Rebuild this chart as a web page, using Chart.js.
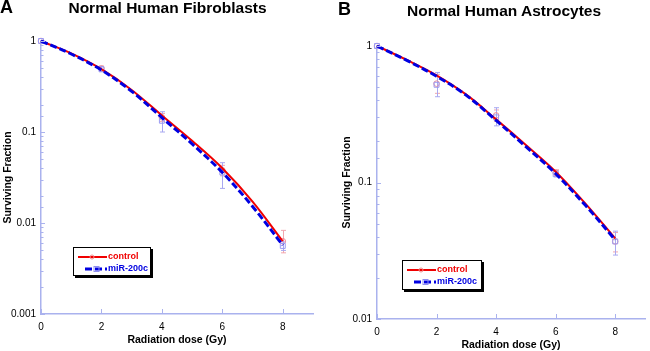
<!DOCTYPE html>
<html>
<head>
<meta charset="utf-8">
<script src="https://cdn.jsdelivr.net/npm/chart.js@4.4.1/dist/chart.umd.min.js"></script>
<style>
  body { margin:0; background:#fff; width:650px; height:351px; overflow:hidden; position:relative; font-family:'Liberation Sans', Arial, sans-serif; }
  .panel { position:absolute; top:0; width:325px; height:351px; }
  .letter { position:absolute; font-weight:bold; font-size:18px; line-height:18px; }
  .title { position:absolute; font-weight:bold; font-size:15.5px; line-height:16px; text-align:center; white-space:nowrap; }
</style>
</head>
<body>
<div class="panel" style="left:0"><canvas id="chartA" width="325" height="351"></canvas></div>
<div class="panel" style="left:325px"><canvas id="chartB" width="325" height="351"></canvas></div>
<div class="letter" style="left:0;top:-2px">A</div>
<div class="title" style="left:0;width:335px;top:-0.5px">Normal Human Fibroblasts</div>
<div class="letter" style="left:338px;top:0">B</div>
<div class="title" style="left:407px;width:194px;top:3px">Normal Human Astrocytes</div>
<script>
// doses for the fitted curves and for the measured points
const doses = [0, 1, 2, 3, 4, 5, 6, 7, 8]
const measuredDoses = [0, 2, 4, 6, 8]

// A - fibroblasts
const controlFitA = [1, 0.73, 0.49, 0.29, 0.152, 0.08, 0.040, 0.0172, 0.0063]
const mirFitA = [1, 0.72, 0.48, 0.28, 0.144, 0.074, 0.036, 0.0152, 0.0057]
const controlPtsA = [1, 0.50, 0.145, 0.038, 0.0063]
const mirPtsA = [1, 0.49, 0.133, 0.036, 0.0056]
const controlLowA = [1, 0.47, 0.13, 0.033, 0.0047]
const controlHighA = [1, 0.53, 0.16, 0.043, 0.0083]
const mirLowA = [1, 0.46, 0.10, 0.024, 0.005]
const mirHighA = [1, 0.52, 0.167, 0.046, 0.0062]

// B - astrocytes
const controlFitB = [1, 0.79, 0.61, 0.44, 0.29, 0.188, 0.12, 0.07, 0.039]
const mirFitB = [1, 0.785, 0.60, 0.435, 0.285, 0.183, 0.116, 0.068, 0.038]
const controlPtsB = [1, 0.53, 0.31, 0.118, 0.037]
const mirPtsB = [1, 0.52, 0.30, 0.115, 0.037]
const controlLowB = [1, 0.45, 0.28, 0.112, 0.031]
const controlHighB = [1, 0.62, 0.34, 0.124, 0.043]
const mirLowB = [1, 0.425, 0.26, 0.11, 0.0294]
const mirHighB = [1, 0.64, 0.353, 0.122, 0.044]

const seriesNames = ['control', 'miR-200c']

const FONT = "'Liberation Sans', Arial, sans-serif"
const AXIS = '#aab2ee'
const RED = 'rgb(240,0,0)'
const BLUE = 'rgb(0,0,225)'

function xy(xs, ys) {
  return ys.map((y, i) => ({ x: xs[i], y: y }))
}

// error bars under the markers
const errorBars = {
  id: 'errorBars',
  beforeDatasetsDraw(chart) {
    const ctx = chart.ctx
    const xs = chart.scales.x
    const ys = chart.scales.y
    ctx.save()
    chart.data.datasets.forEach((ds) => {
      if (!ds.errLow) return
      ctx.strokeStyle = ds.errColor
      ctx.lineWidth = 1
      ds.errLow.forEach((lo, i) => {
        const hi = ds.errHigh[i]
        if (lo === hi) return
        const px = Math.round(xs.getPixelForValue(measuredDoses[i])) + 0.5
        const y1 = ys.getPixelForValue(lo)
        const y2 = ys.getPixelForValue(hi)
        ctx.beginPath()
        ctx.moveTo(px, y1); ctx.lineTo(px, y2)
        ctx.moveTo(px - 2.5, y1); ctx.lineTo(px + 2.5, y1)
        ctx.moveTo(px - 2.5, y2); ctx.lineTo(px + 2.5, y2)
        ctx.stroke()
      })
    })
    ctx.restore()
  }
}

// small ticks pointing into the plot
const inwardTicks = {
  id: 'inwardTicks',
  afterDraw(chart) {
    const ctx = chart.ctx
    const area = chart.chartArea
    ctx.save()
    ctx.strokeStyle = AXIS
    ctx.lineWidth = 1
    chart.scales.y.ticks.forEach((t) => {
      const l = Math.log10(t.value)
      const major = Math.abs(l - Math.round(l)) < 1e-6
      const py = Math.round(chart.scales.y.getPixelForValue(t.value)) + 0.5
      ctx.beginPath()
      ctx.moveTo(area.left, py)
      ctx.lineTo(area.left + (major ? 4 : 2.5), py)
      ctx.stroke()
    })
    chart.scales.x.ticks.forEach((t) => {
      const px = Math.round(chart.scales.x.getPixelForValue(t.value)) + 0.5
      ctx.beginPath()
      ctx.moveTo(px, area.bottom)
      ctx.lineTo(px, area.bottom - 5)
      ctx.stroke()
    })
    ctx.restore()
  }
}

// boxed legend with a drop shadow
const boxLegend = {
  id: 'boxLegend',
  afterDraw(chart, args, opts) {
    const ctx = chart.ctx
    const { x, y, w, h } = opts
    ctx.save()
    ctx.fillStyle = '#000'
    ctx.fillRect(x + 2, y + 2, w, h)
    ctx.fillStyle = '#fff'
    ctx.fillRect(x, y, w, h)
    ctx.strokeStyle = '#000'
    ctx.lineWidth = 1
    ctx.strokeRect(x + 0.5, y + 0.5, w - 1, h - 1)
    ctx.font = 'bold 9px ' + FONT
    ctx.textBaseline = 'middle'
    const items = chart.data.datasets.filter((ds) => ds.legendRow !== undefined)
    items.forEach((ds) => {
      const ry = y + 10 + ds.legendRow * 12
      ctx.strokeStyle = ds.borderColor
      ctx.lineWidth = ds.borderWidth
      ctx.setLineDash(ds.borderDash || [])
      ctx.beginPath()
      ctx.moveTo(x + (ds.legendRow ? 12 : 5), ry)
      ctx.lineTo(x + 34, ry)
      ctx.stroke()
      ctx.setLineDash([])
      ctx.lineWidth = 1
      ctx.strokeStyle = ds.legendMarkColor
      if (ds.legendRow === 0) {
        ctx.beginPath()
        ctx.arc(x + 19, ry, 2, 0, Math.PI * 2)
        ctx.stroke()
      } else {
        ctx.strokeRect(x + 21, ry - 2.5, 5, 5)
      }
      ctx.fillStyle = ds.borderColor
      ctx.fillText(ds.label, x + 35, ry)
    })
    ctx.restore()
  }
}

function makeChart(id, p) {
  return new Chart(document.getElementById(id), {
    type: 'line',
    data: {
      datasets: [
        {
          label: seriesNames[1],
          data: xy(doses, p.mirFit),
          borderColor: BLUE,
          borderWidth: 3,
          borderDash: [7, 3],
          pointRadius: 0,
          tension: 0.35,
          clip: false,
          order: 0,
          legendRow: 1,
          legendMarkColor: '#8f8ff0',
        },
        {
          label: seriesNames[0],
          data: xy(doses, p.controlFit),
          borderColor: RED,
          borderWidth: 2,
          pointRadius: 0,
          tension: 0.35,
          clip: false,
          order: 1,
          legendRow: 0,
          legendMarkColor: '#f08c8c',
        },
        {
          label: seriesNames[0] + ' data',
          data: xy(measuredDoses, p.controlPts),
          showLine: false,
          pointStyle: 'circle',
          pointRadius: 2.8,
          pointBorderWidth: 1,
          pointBorderColor: '#ee8a95',
          pointBackgroundColor: 'rgba(255,255,255,0)',
          clip: false,
          order: 3,
          errLow: p.controlLow,
          errHigh: p.controlHigh,
          errColor: '#f2a6ae',
        },
        {
          label: seriesNames[1] + ' data',
          data: xy(measuredDoses, p.mirPts),
          showLine: false,
          pointStyle: 'rect',
          pointRadius: 3.5,
          pointBorderWidth: 1,
          pointBorderColor: '#9a9af2',
          pointBackgroundColor: 'rgba(255,255,255,0)',
          clip: false,
          order: 2,
          errLow: p.mirLow,
          errHigh: p.mirHigh,
          errColor: '#a8a8f0',
        },
      ],
    },
    options: {
      responsive: false,
      animation: false,
      layout: { padding: p.padding },
      plugins: {
        legend: { display: false },
        tooltip: { enabled: false },
        boxLegend: p.legend,
      },
      scales: {
        x: {
          type: 'linear',
          min: 0,
          max: 9,
          grid: { display: false, drawTicks: false },
          border: { color: AXIS, width: 1.5 },
          ticks: { stepSize: 2, includeBounds: false, padding: 7, color: '#000', font: { family: FONT, size: 10 } },
          title: { display: true, text: 'Radiation dose (Gy)', color: '#000', font: { family: FONT, size: 10.5, weight: 'bold' }, padding: { top: 0, bottom: p.xTitlePad } },
          afterFit: (s) => { s.height = p.xHeight },
        },
        y: {
          type: 'logarithmic',
          min: p.yMin,
          max: 1,
          grid: { display: false, drawTicks: false },
          border: { color: AXIS, width: 1.5 },
          ticks: {
            autoSkip: false,
            padding: 5,
            color: '#000',
            font: { family: FONT, size: 10 },
            callback: (v) => {
              const l = Math.log10(v)
              return Math.abs(l - Math.round(l)) < 1e-6 ? String(Number(v.toPrecision(1))) : ''
            },
          },
          title: { display: true, text: 'Surviving Fraction', color: '#000', font: { family: FONT, size: 10.5, weight: 'bold' }, padding: { top: 1.5, bottom: 0 } },
          afterFit: (s) => { s.width = p.yWidth },
        },
      },
    },
    plugins: [errorBars, inwardTicks, boxLegend],
  })
}

makeChart('chartA', {
  controlFit: controlFitA, mirFit: mirFitA,
  controlPts: controlPtsA, mirPts: mirPtsA,
  controlLow: controlLowA, controlHigh: controlHighA,
  mirLow: mirLowA, mirHigh: mirHighA,
  yMin: 0.001,
  padding: { left: 0, top: 41, right: 12, bottom: 0 },
  yWidth: 41, xHeight: 37, xTitlePad: 4.4,
  legend: { x: 73, y: 247, w: 78, h: 29 },
})

makeChart('chartB', {
  controlFit: controlFitB, mirFit: mirFitB,
  controlPts: controlPtsB, mirPts: mirPtsB,
  controlLow: controlLowB, controlHigh: controlHighB,
  mirLow: mirLowB, mirHigh: mirHighB,
  yMin: 0.01,
  padding: { left: 14, top: 46, right: 1, bottom: 0 },
  yWidth: 38, xHeight: 32, xTitlePad: 0,
  legend: { x: 77, y: 260, w: 80, h: 30 },
})
</script>
</body>
</html>
